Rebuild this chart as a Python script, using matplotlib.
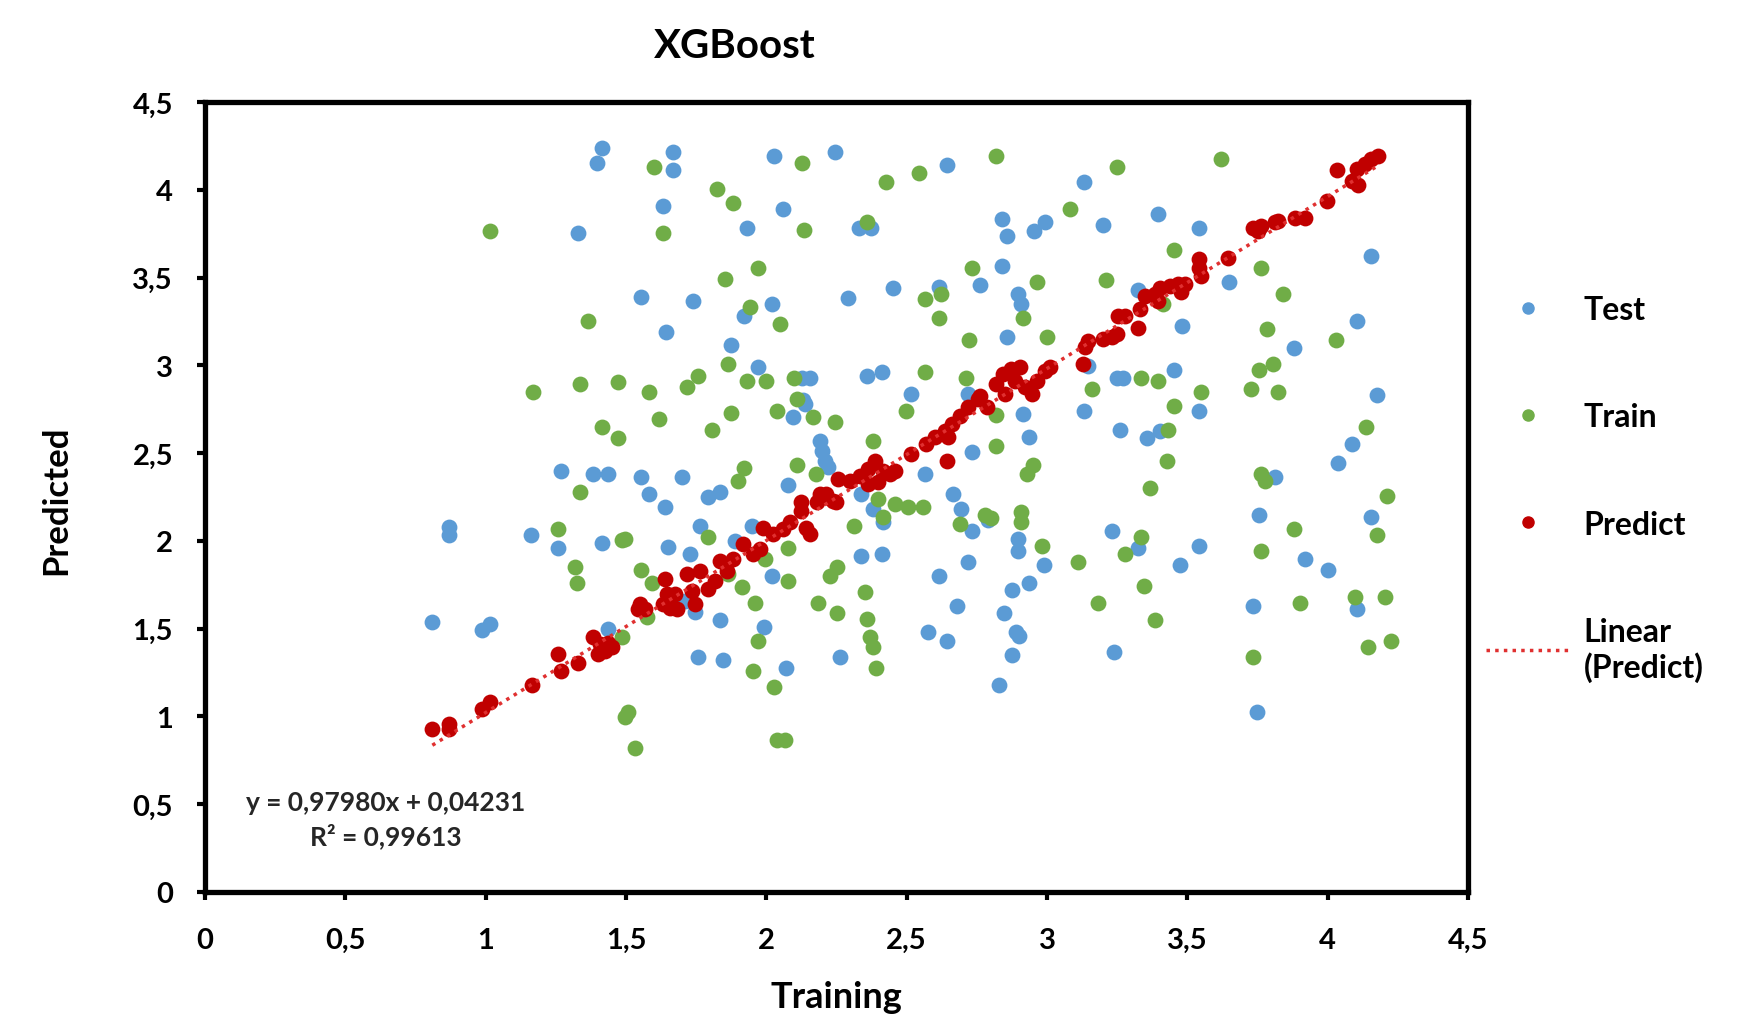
import numpy as np
import matplotlib.pyplot as plt
from matplotlib.lines import Line2D

plt.rcParams['font.family'] = ['Lato', 'DejaVu Sans']
plt.rcParams['font.weight'] = 'bold'

# Test points (blue)
test_x = [1.413, 1.395, 1.328, 1.268, 1.383, 1.435, 1.668, 1.668, 2.028, 2.244, 2.645, 1.631,
          2.058, 1.932, 2.331, 2.372, 2.839, 2.858, 2.953, 2.993, 2.839, 2.761, 1.552, 1.737,
          2.019, 1.921, 2.292, 2.450, 2.615, 2.897, 2.906, 2.858, 1.641, 1.874, 1.971, 2.155,
          2.126, 2.360, 2.411, 2.517, 2.720, 2.130, 2.137, 2.096, 2.915, 2.937, 2.191, 2.200,
          2.210, 2.220, 2.731, 1.552, 1.698, 2.078, 2.565, 1.582, 1.639, 1.793, 1.834, 2.666,
          2.339, 2.381, 1.763, 1.651, 1.728, 1.948, 1.888, 1.746, 1.710, 2.019, 1.835, 1.991,
          1.757, 1.844, 2.069, 2.262, 2.416, 2.339, 2.411, 2.692, 2.731, 2.790, 2.897, 2.897,
          2.989, 2.719, 2.615, 2.877, 2.937, 2.681, 2.848, 2.577, 2.645, 2.888, 2.900, 2.877,
          2.830, 3.133, 3.200, 3.394, 3.541, 4.154, 3.648, 3.325, 3.482, 4.106, 3.881, 3.147,
          3.248, 3.272, 3.453, 3.133, 3.541, 4.174, 3.260, 3.355, 3.402, 4.085, 4.037, 3.814,
          3.755, 4.156, 3.230, 3.325, 3.541, 3.473, 3.921, 4.000, 3.735, 4.106, 3.240, 3.747,
          0.869, 0.869, 1.161, 1.259, 1.415, 0.810, 0.986, 1.015, 1.435]
test_y = [4.240, 4.155, 3.751, 2.396, 2.380, 2.380, 4.218, 4.112, 4.190, 4.218, 4.142, 3.909,
          3.890, 3.781, 3.781, 3.781, 3.833, 3.738, 3.766, 3.814, 3.567, 3.457, 3.392, 3.364,
          3.349, 3.282, 3.381, 3.443, 3.445, 3.409, 3.349, 3.159, 3.191, 3.117, 2.988, 2.927,
          2.930, 2.940, 2.960, 2.836, 2.838, 2.800, 2.779, 2.707, 2.720, 2.589, 2.570, 2.513,
          2.456, 2.420, 2.504, 2.365, 2.365, 2.320, 2.380, 2.266, 2.194, 2.248, 2.276, 2.266,
          2.266, 2.180, 2.086, 1.963, 1.928, 2.086, 2.000, 1.593, 1.660, 1.801, 1.551, 1.507,
          1.336, 1.321, 1.276, 1.336, 2.110, 1.915, 1.928, 2.181, 2.054, 2.120, 2.010, 1.944,
          1.864, 1.877, 1.801, 1.722, 1.758, 1.631, 1.587, 1.479, 1.428, 1.479, 1.460, 1.351,
          1.179, 4.047, 3.800, 3.861, 3.781, 3.624, 3.472, 3.428, 3.225, 3.254, 3.098, 2.997,
          2.927, 2.927, 2.973, 2.741, 2.741, 2.832, 2.631, 2.585, 2.627, 2.551, 2.441, 2.365,
          2.149, 2.134, 2.054, 1.959, 1.972, 1.864, 1.896, 1.834, 1.631, 1.612, 1.365, 1.023,
          2.077, 2.035, 2.035, 1.959, 1.988, 1.536, 1.492, 1.526, 1.498]

# Train points (green)
train_x = [1.015, 1.366, 1.170, 1.336, 1.470, 1.413, 1.472, 1.336, 1.600, 2.126, 2.428, 2.545,
           2.818, 1.823, 1.882, 1.631, 2.135, 2.360, 1.971, 1.853, 2.731, 2.963, 1.942, 2.048,
           2.624, 2.565, 2.615, 2.915, 2.721, 2.999, 1.862, 1.757, 1.716, 1.582, 1.930, 1.999,
           2.098, 2.565, 2.713, 2.108, 1.619, 1.874, 2.037, 2.165, 2.244, 2.497, 2.820, 1.805,
           2.381, 2.818, 2.108, 2.177, 1.921, 1.900, 2.951, 2.927, 1.496, 1.793, 1.552, 1.591,
           1.574, 1.864, 1.995, 2.078, 1.912, 2.078, 1.959, 1.971, 1.951, 2.028, 1.484, 1.508,
           1.496, 1.532, 2.037, 2.066, 2.312, 2.399, 2.416, 2.458, 2.506, 2.557, 2.253, 2.227,
           2.351, 2.185, 2.253, 2.360, 2.369, 2.381, 2.390, 2.690, 2.779, 2.802, 2.909, 2.909,
           2.981, 3.620, 3.248, 3.082, 3.453, 3.764, 3.209, 3.842, 3.414, 3.785, 4.028, 3.335,
           3.394, 3.161, 3.548, 3.453, 3.726, 3.824, 3.755, 3.806, 3.432, 3.426, 3.367, 4.135,
           3.764, 3.776, 4.213, 3.881, 4.174, 3.335, 3.278, 3.111, 3.764, 3.180, 3.346, 3.384,
           3.901, 4.097, 4.204, 3.735, 4.144, 4.224, 1.259, 1.484, 1.318, 1.327]
train_y = [3.766, 3.250, 2.850, 2.893, 2.903, 2.646, 2.585, 2.276, 4.127, 4.155, 4.047, 4.094,
           4.190, 4.003, 3.922, 3.753, 3.770, 3.817, 3.552, 3.491, 3.552, 3.472, 3.330, 3.235,
           3.409, 3.377, 3.269, 3.269, 3.144, 3.159, 3.007, 2.940, 2.878, 2.850, 2.912, 2.912,
           2.927, 2.960, 2.927, 2.807, 2.694, 2.726, 2.741, 2.707, 2.675, 2.741, 2.718, 2.631,
           2.570, 2.542, 2.434, 2.380, 2.418, 2.342, 2.434, 2.380, 2.010, 2.023, 1.834, 1.758,
           1.564, 1.811, 1.896, 1.959, 1.739, 1.769, 1.644, 1.431, 1.260, 1.166, 1.450, 1.023,
           0.995, 0.820, 0.866, 0.866, 2.086, 2.238, 2.134, 2.210, 2.194, 2.194, 1.853, 1.801,
           1.710, 1.644, 1.587, 1.555, 1.450, 1.397, 1.274, 2.099, 2.149, 2.130, 2.162, 2.105,
           1.972, 4.174, 4.127, 3.890, 3.658, 3.552, 3.487, 3.409, 3.349, 3.206, 3.144, 2.927,
           2.912, 2.864, 2.850, 2.769, 2.864, 2.850, 2.973, 3.007, 2.631, 2.456, 2.301, 2.646,
           2.380, 2.342, 2.257, 2.067, 2.035, 2.023, 1.925, 1.877, 1.940, 1.646, 1.741, 1.551,
           1.646, 1.678, 1.678, 1.336, 1.397, 1.428, 2.067, 2.005, 1.853, 1.758]

# Predict points (red)
pred_x = [0.810, 0.869, 0.869, 0.986, 1.015, 1.164, 1.259, 1.268, 1.328, 1.383, 1.407, 1.437,
          1.401, 1.425, 1.449, 1.550, 1.567, 1.543, 1.639, 1.645, 1.656, 1.633, 1.680, 1.674,
          1.716, 1.746, 1.734, 1.763, 1.793, 1.817, 1.835, 1.859, 1.882, 1.918, 1.953, 1.977,
          1.989, 2.024, 2.060, 2.084, 2.125, 2.143, 2.155, 2.179, 2.208, 2.238, 2.125, 2.191,
          2.214, 2.250, 2.256, 2.297, 2.333, 2.363, 2.387, 2.416, 2.440, 2.458, 2.363, 2.399,
          2.517, 2.568, 2.600, 2.636, 2.660, 2.648, 2.642, 2.690, 2.720, 2.755, 2.785, 2.761,
          2.820, 2.844, 2.873, 2.903, 2.885, 2.850, 2.921, 2.945, 2.963, 2.992, 3.011, 3.129,
          3.135, 3.147, 3.200, 3.230, 3.248, 3.254, 3.278, 3.325, 3.331, 3.349, 3.384, 3.402,
          3.396, 3.438, 3.467, 3.479, 3.491, 3.541, 3.541, 3.547, 3.646, 3.735, 3.752, 3.764,
          3.812, 3.824, 3.883, 3.918, 3.996, 4.035, 4.085, 4.109, 4.103, 4.132, 4.156, 4.180]
pred_y = [0.928, 0.957, 0.928, 1.042, 1.080, 1.181, 1.355, 1.260, 1.302, 1.450, 1.412, 1.420,
          1.355, 1.374, 1.393, 1.640, 1.610, 1.610, 1.782, 1.697, 1.620, 1.640, 1.610, 1.697,
          1.811, 1.640, 1.716, 1.830, 1.725, 1.773, 1.887, 1.830, 1.896, 1.982, 1.925, 1.953,
          2.076, 2.038, 2.067, 2.105, 2.172, 2.076, 2.038, 2.219, 2.248, 2.229, 2.220, 2.266,
          2.266, 2.220, 2.351, 2.342, 2.370, 2.408, 2.456, 2.400, 2.380, 2.400, 2.324, 2.333,
          2.494, 2.551, 2.589, 2.627, 2.665, 2.589, 2.456, 2.713, 2.760, 2.807, 2.760, 2.826,
          2.892, 2.950, 2.978, 2.988, 2.912, 2.836, 2.874, 2.836, 2.912, 2.969, 2.988, 3.007,
          3.102, 3.140, 3.149, 3.159, 3.178, 3.282, 3.282, 3.215, 3.320, 3.396, 3.405, 3.443,
          3.367, 3.453, 3.462, 3.415, 3.462, 3.605, 3.557, 3.509, 3.614, 3.785, 3.766, 3.795,
          3.814, 3.823, 3.842, 3.842, 3.937, 4.112, 4.052, 4.029, 4.118, 4.146, 4.174, 4.193]

# trendline from the chart label
slope, intercept = 0.97980, 0.04231
ticks = [0, 0.5, 1, 1.5, 2, 2.5, 3, 3.5, 4, 4.5]
tick_labels = ["0", "0,5", "1", "1,5", "2", "2,5", "3", "3,5", "4", "4,5"]

blue = "#5B9BD5"
green = "#70AD47"
red = "#C00000"

fig = plt.figure(figsize=(17.45, 10.2), dpi=100)
ax = fig.add_axes([205 / 1745, 1 - 893 / 1020, (1468 - 205) / 1745, (893 - 103) / 1020])

ax.scatter(test_x, test_y, s=130, color=blue, linewidths=0, zorder=2)
ax.scatter(train_x, train_y, s=130, color=green, linewidths=0, zorder=3)
ax.scatter(pred_x, pred_y, s=130, color=red, linewidths=0, zorder=4)

lx = np.array([min(pred_x), max(pred_x)])
ax.plot(lx, slope * lx + intercept, linestyle=(0, (1, 1.5)), color="#E03030", lw=2.5, zorder=5)

ax.set_xlim(0, 4.5)
ax.set_ylim(0, 4.5)
ax.set_xticks(ticks)
ax.set_xticklabels(tick_labels)
ax.set_yticks(ticks)
ax.set_yticklabels(tick_labels)
for sp in ax.spines.values():
    sp.set_linewidth(3.8)
ax.tick_params(direction="out", length=6, width=3, labelsize=21)
ax.tick_params(axis="x", pad=19)
ax.tick_params(axis="y", pad=17)

fig.text(735 / 1745, 1 - 47 / 1020, "XGBoost", ha="center", va="center", fontsize=29, fontweight="bold")
fig.text(56 / 1745, 1 - 500 / 1020, "Predicted", ha="center", va="center", rotation=90,
         fontsize=25, fontweight="bold")
fig.text(836 / 1745, 1 - 998 / 1020, "Training", ha="center", va="center", fontsize=26, fontweight="bold")

ax.text(386 / 1745, 1 - 820 / 1020, "y = 0,97980x + 0,04231\nR² = 0,99613", transform=fig.transFigure,
        ha="center", va="center", multialignment="center", fontsize=19, fontweight="bold",
        color="#262626", linespacing=1.35)

handles = [
    Line2D([], [], marker="o", ls="none", color=blue, ms=8),
    Line2D([], [], marker="o", ls="none", color=green, ms=8),
    Line2D([], [], marker="o", ls="none", color=red, ms=8),
    Line2D([], [], ls=(0, (1, 1.5)), color="#E03030", lw=2.5),
]
labels = ["Test", "Train", "Predict", "Linear\n(Predict)"]
fig.legend(handles, labels, loc="upper left", bbox_to_anchor=(1486 / 1745, 1 - 296 / 1020),
           frameon=False, fontsize=23, handlelength=2.6, handletextpad=0.45,
           labelspacing=2.45, borderpad=0, borderaxespad=0)

fig.savefig("out.png", dpi=100)
